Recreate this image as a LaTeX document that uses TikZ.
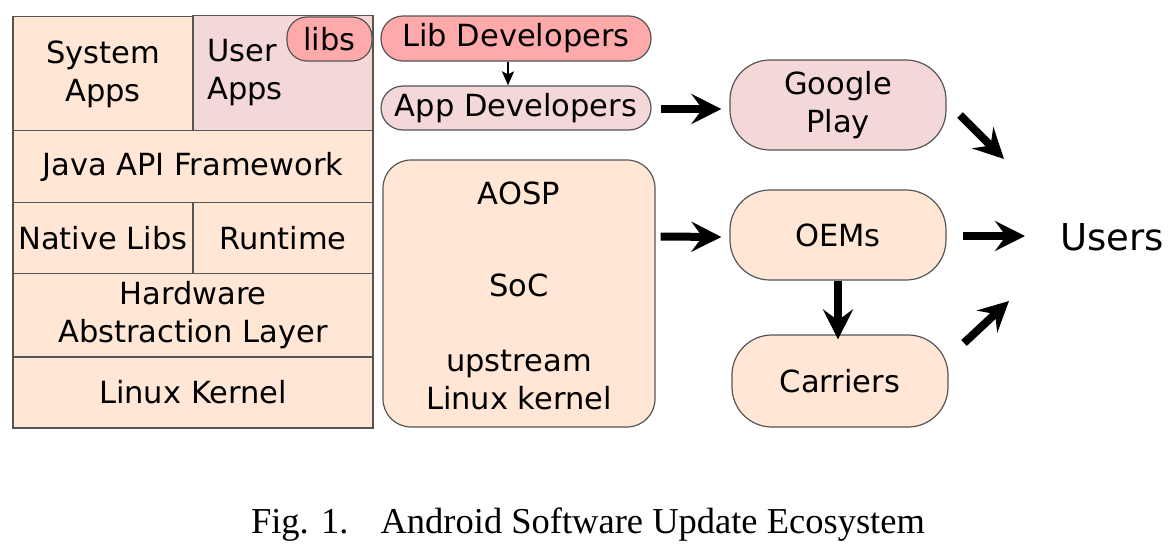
\documentclass[tikz,border=0pt]{standalone}
\usepackage{fontspec}
\setmainfont{DejaVu Sans}
\newfontfamily\capfont{Liberation Serif}
\usetikzlibrary{arrows.meta}
\definecolor{peach}{HTML}{FFE6D5}
\definecolor{pinkish}{HTML}{F4D7D7}
\definecolor{libpink}{HTML}{FFAAAA}
\definecolor{edge}{HTML}{555555}
\begin{document}
\begin{tikzpicture}[x=1pt,y=-1pt,
  txt/.style={font=\fontsize{30.5}{38}\selectfont, align=center, inner sep=0pt},
  cell/.style={txt, draw=edge, line width=1.3pt, fill=peach, minimum width=#1},
  pill/.style={txt, draw=edge, line width=1.2pt, fill=peach, rounded corners=40pt, minimum width=216pt, minimum height=90pt},
  fat/.style={line width=8pt, -{Stealth[length=30pt,width=30pt,inset=11pt]}},
  thin/.style={line width=2.5pt, -{Stealth[length=14pt,width=12pt,inset=3pt]}}
]
\useasboundingbox (0,0) rectangle (1176,557);
% Android stack
\node[cell=180pt, minimum height=115pt] (sys) at (103,74) {System\\Apps};
\node[cell=180pt, minimum height=115pt, fill=pinkish] (user) at (283,73) {};
\node[txt, align=left, anchor=west] (usertxt) at (207,73) {User\\Apps};
\node[txt, draw=edge, line width=1.2pt, fill=libpink, rounded corners=20pt, minimum width=85pt, minimum height=44pt] (libs) at (329.5,39) {libs};
\node[cell=360pt, minimum height=72pt] (java) at (193,166.5) {Java API Framework};
\node[cell=180pt, minimum height=71pt] (native) at (103,238) {Native Libs};
\node[cell=180pt, minimum height=71pt] (runtime) at (283,238) {Runtime};
\node[cell=360pt, minimum height=84pt] (hal) at (193,315.5) {Hardware\\Abstraction Layer};
\node[cell=360pt, minimum height=71pt] (kernel) at (193,392.5) {Linux Kernel};
% developers
\node[txt, draw=edge, line width=1.2pt, fill=libpink, rounded corners=22pt, minimum width=270pt, minimum height=45pt] (libdev) at (516,38.5) {Lib Developers};
\node[txt, draw=edge, line width=1.2pt, fill=pinkish, rounded corners=22pt, minimum width=270pt, minimum height=44pt] (appdev) at (516,108) {App Developers};
\node[txt, draw=edge, line width=1.2pt, fill=peach, rounded corners=28pt, minimum width=272pt, minimum height=267pt] (aosp) at (519,293.5) {};
\node[txt] (aospt) at (519,193) {AOSP};
\node[txt] (soc) at (519,285) {SoC};
\node[txt] (up) at (519,380) {upstream\\Linux kernel};
% distribution
\node[pill, fill=pinkish] (gplay) at (838,105) {Google\\Play};
\node[pill] (oems) at (838,235) {OEMs};
\node[pill, minimum height=92pt] (carriers) at (840,381) {Carriers};
\node[inner sep=0pt, font=\fontsize{37}{40}\selectfont] (users) at (1112,237) {Users};
% arrows
\draw[thin] (libdev.south -| 508,0) -- (appdev.north -| 508,0);
\draw[fat] ([xshift=9pt,yshift=-1pt]appdev.east) -- ([xshift=-8pt,yshift=-4pt]gplay.west);
\draw[fat] ([xshift=5pt,yshift=57pt]aosp.east) -- ([xshift=-8pt,yshift=-2pt]oems.west);
\draw[fat] (oems.south) -- ([yshift=-5pt]carriers.north -| oems.south);
\coordinate (g1) at (960,115); \coordinate (g2) at (1004,159);
\coordinate (o1) at (963,236); \coordinate (o2) at (1025,236);
\coordinate (c1) at (964,343); \coordinate (c2) at (1009,301);
\draw[fat] (g1) -- (g2);
\draw[fat] (o1) -- (o2);
\draw[fat] (c1) -- (c2);
% caption
\node[inner sep=0pt, font=\capfont\fontsize{36.5}{40}\selectfont] (cap) at (588,525) {Fig. 1.\hspace{0.55em} Android Software Update Ecosystem};
\end{tikzpicture}
\end{document}
